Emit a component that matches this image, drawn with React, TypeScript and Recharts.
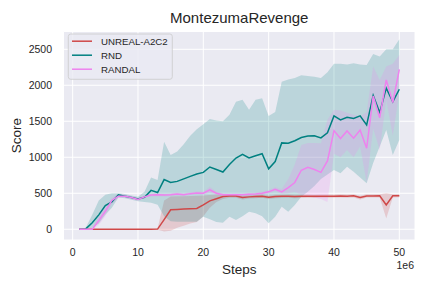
import React from "react";
import { ComposedChart, Line, Area, XAxis, YAxis, CartesianGrid } from "recharts";

const FONT = "'Liberation Sans', Arial, sans-serif";
const TEXT = "#262626";

// x positions (in 1e6 steps)
const steps = [
  1, 2, 3, 4, 5, 6, 7, 8, 9, 10, 11, 12, 13, 14, 15, 16, 17, 18, 19, 20, 21, 22, 23, 24, 25,
  26, 27, 28, 29, 30, 31, 32, 33, 34, 35, 36, 37, 38, 39, 40, 41, 42, 43, 44, 45, 46, 47, 48, 49, 50,
];

const unrealMean = [
  0, 0, 0, 0, 0, 0, 0, 0, 0, 0, 0, 0, 2, 135, 270, 275, 280, 285, 290, 340, 395, 425, 455, 462, 462,
  440, 450, 455, 460, 444, 455, 458, 460, 455, 458, 460, 458, 460, 460, 460, 462, 460, 465, 440, 462, 462, 465, 338, 465, 467,
];
const unrealLow = [
  0, 0, 0, 0, 0, 0, 0, 0, 0, 0, 0, 0, -5, -30, -20, 20, 50, 80, 100, 180, 300, 380, 420, 438, 438,
  415, 428, 432, 438, 420, 432, 435, 438, 432, 435, 438, 435, 438, 438, 438, 440, 438, 442, 415, 440, 440, 442, 150, 442, 445,
];
const unrealHigh = [
  0, 0, 0, 0, 0, 0, 0, 0, 0, 0, 0, 0, 10, 400, 455, 460, 460, 462, 465, 470, 475, 478, 485, 488, 488,
  465, 472, 478, 482, 468, 478, 480, 482, 478, 480, 482, 480, 482, 482, 482, 485, 482, 488, 465, 485, 485, 488, 500, 488, 490,
];

const rndMean = [
  0, 5, 90, 200, 330, 380, 480, 460, 440, 420, 445, 540, 510, 690, 650, 665, 700, 735, 768, 790, 865, 830, 795, 900, 990,
  1040, 990, 1020, 1050, 840, 940, 1200, 1195, 1230, 1275, 1295, 1300, 1270, 1340, 1575, 1520, 1555, 1540, 1575, 1450, 1860, 1620, 1960, 1770, 1945,
];
const rndLow = [
  0, 0, 20, 80, 200, 300, 440, 430, 410, 390, 380, 370, 340, 180, 110, 105, 105, 105, 105, 175, 140, 100, 92, 175, 130,
  180, 245, 222, 180, 83, 175, 314, 245, 337, 453, 520, 600, 700, 760, 824, 778, 869, 800, 720, 640, 920, 1150, 1380, 1030, 1240,
];
const rndHigh = [
  0, 20, 200, 400, 480, 500, 500, 490, 470, 450, 520, 720, 685, 1215, 1030, 1080, 1180, 1300, 1390, 1460, 1530, 1510, 1500, 1590, 1770,
  1800, 1660, 1800, 1820, 1575, 1630, 2050, 2080, 2100, 2140, 2130, 2120, 2100, 2180, 2300, 2300, 2290, 2305, 2290, 2280, 2435, 2400, 2500, 2500, 2640,
];

const randalMean = [
  0, 0, 0, 120, 250, 400, 460, 460, 440, 415, 450, 475, 480, 475, 480, 490, 480, 495, 505, 500, 548, 500, 480, 478, 480,
  478, 485, 490, 500, 520, 555, 520, 580, 650, 820, 860, 830, 790, 950, 1370, 1260, 1365, 1265, 1380, 1125, 1850, 1550, 2075, 1760, 2220,
];
const randalLow = [
  0, 0, -5, 60, 180, 350, 430, 440, 420, 395, 430, 455, 460, 455, 460, 470, 460, 475, 485, 480, 510, 478, 460, 458, 460,
  458, 465, 470, 478, 495, 525, 490, 500, 520, 480, 460, 440, 420, 380, 1050, 1000, 1100, 1000, 1150, 650, 1400, 1100, 1800, 1300, 1900,
];
const randalHigh = [
  0, 0, 10, 190, 320, 440, 490, 480, 460, 435, 470, 495, 500, 495, 500, 510, 500, 515, 525, 520, 590, 522, 500, 498, 500,
  498, 505, 510, 522, 545, 585, 560, 700, 900, 1170, 1200, 1200, 1195, 1520, 1660, 1650, 1620, 1590, 1570, 1630, 2260, 2075, 2260, 2300, 2420,
];

const xTicks = [0, 10, 20, 30, 40, 50];
const yTicks = [0, 500, 1000, 1500, 2000, 2500];

const series = [
  { name: "UNREAL-A2C2", key: "unreal", color: "#cf4848" },
  { name: "RND", key: "rnd", color: "#008080" },
  { name: "RANDAL", key: "randal", color: "#ee82ee" },
];

const data = steps.map((s, i) => ({
  step: s,
  unreal: unrealMean[i],
  unrealBand: [unrealLow[i], unrealHigh[i]],
  rnd: rndMean[i],
  rndBand: [rndLow[i], rndHigh[i]],
  randal: randalMean[i],
  randalBand: [randalLow[i], randalHigh[i]],
}));

const tickStyle = { fontSize: 10.5, fill: TEXT, fontFamily: FONT };

export default function App() {
  return (
    <div style={{ position: "absolute", left: 0, top: 0, width: 432, height: 288, background: "#fff" }}>
      <ComposedChart
        width={432}
        height={288}
        data={data}
        margin={{ top: 31.5, right: 17, bottom: 0, left: 0 }}
      >
        <CartesianGrid fill="#EAEAF2" stroke="#ffffff" strokeWidth={1} />
        <XAxis
          dataKey="step"
          type="number"
          domain={[-1.4, 52.4]}
          ticks={xTicks}
          allowDataOverflow
          tickLine={false}
          axisLine={false}
          tickMargin={3}
          height={48}
          tick={tickStyle}
        />
        <YAxis
          type="number"
          domain={[-149, 2747]}
          ticks={yTicks}
          allowDataOverflow
          tickLine={false}
          axisLine={false}
          tickMargin={5.5}
          width={63.5}
          tick={tickStyle}
        />
        {series.map((s) => [
          <Area
            key={s.key + "Band"}
            dataKey={s.key + "Band"}
            type="linear"
            stroke="none"
            fill={s.color}
            fillOpacity={0.2}
            isAnimationActive={false}
            activeDot={false}
          />,
          <Line
            key={s.key}
            dataKey={s.key}
            type="linear"
            stroke={s.color}
            strokeWidth={1.5}
            dot={false}
            activeDot={false}
            isAnimationActive={false}
          />,
        ])}
      </ComposedChart>
      <svg
        width={432}
        height={288}
        style={{ position: "absolute", left: 0, top: 0, pointerEvents: "none" }}
        fontFamily={FONT}
      >
        <text x={239.25} y={22.7} fontSize={15} fill={TEXT} textAnchor="middle">
          MontezumaRevenge
        </text>
        <text x={239.25} y={273.5} fontSize={13.5} fill={TEXT} textAnchor="middle">
          Steps
        </text>
        <text
          x={0}
          y={0}
          fontSize={13.5}
          fill={TEXT}
          textAnchor="middle"
          transform="translate(20.5,135.7) rotate(-90)"
        >
          Score
        </text>
        <text x={414} y={269.3} fontSize={10.5} fill={TEXT} textAnchor="end">
          1e6
        </text>
        <rect
          x={68.3}
          y={34}
          width={104}
          height={45.3}
          rx={2.5}
          fill="#EAEAF2"
          fillOpacity={0.8}
          stroke="#cccccc"
          strokeWidth={0.8}
        />
        {series.map((s, i) => (
          <g key={s.key}>
            <line x1={72} x2={92} y1={41.2 + i * 14} y2={41.2 + i * 14} stroke={s.color} strokeWidth={1.5} />
            <text x={101} y={44.6 + i * 14} fontSize={9.7} fill={TEXT}>
              {s.name}
            </text>
          </g>
        ))}
      </svg>
    </div>
  );
}
